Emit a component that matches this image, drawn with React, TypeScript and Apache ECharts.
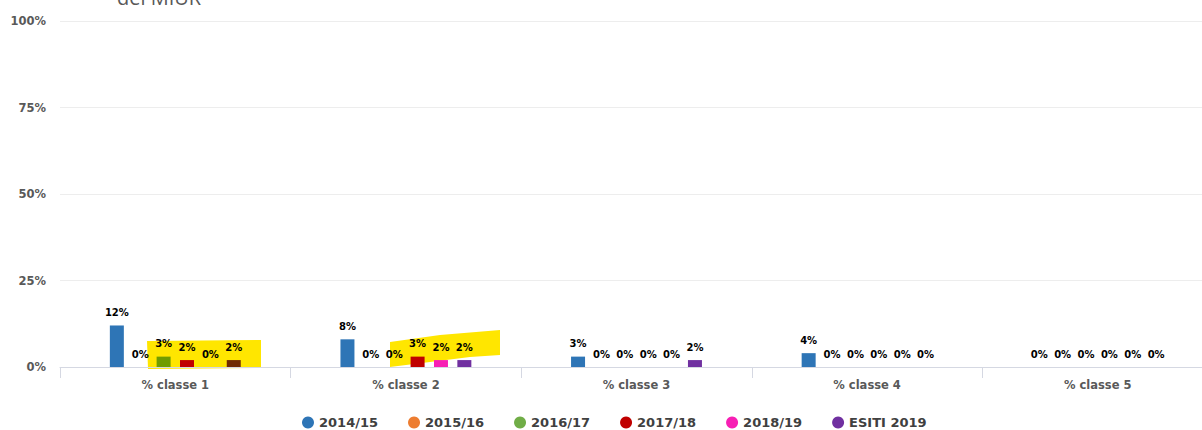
import React, { useEffect, useRef } from "react";
import * as echarts from "echarts";

const categories = ["% classe 1", "% classe 2", "% classe 3", "% classe 4", "% classe 5"];
const seriesNames = ["2014/15", "2015/16", "2016/17", "2017/18", "2018/19", "ESITI 2019"];
const values2014 = [12, 8, 3, 4, 0];
const values2015 = [0, 0, 0, 0, 0];
const values2016 = [3, 0, 0, 0, 0];
const values2017 = [2, 3, 0, 0, 0];
const values2018 = [0, 2, 0, 0, 0];
const valuesEsiti = [2, 2, 2, 0, 0];
const yTicks = [0, 25, 50, 75, 100];

const colors = ["#2e75b6", "#ed7d31", "#70ad47", "#c00000", "#f71fb4", "#7030a0"];
// colours of bars seen through the yellow highlighter (class 1)
const highlightedColors = ["#2e75b6", "#ed7d00", "#709c00", "#c00000", "#f71f00", "#702b00"];

const allValues = [values2014, values2015, values2016, values2017, values2018, valuesEsiti];

export default function App() {
  const ref = useRef<HTMLDivElement>(null);
  useEffect(() => {
    if (!ref.current) return;
    const chart = echarts.init(ref.current, undefined, { renderer: "svg" });
    const font = "'DejaVu Sans', sans-serif";
    chart.setOption({
      animation: false,
      backgroundColor: "#ffffff",
      textStyle: { fontFamily: font },
      color: colors,
      grid: { left: 60, top: 21, right: 0, height: 346, containLabel: false },
      legend: {
        data: seriesNames,
        top: 416,
        left: 302,
        padding: 0,
        icon: "circle",
        itemWidth: 12,
        itemHeight: 12,
        itemGap: 30,
        textStyle: { fontFamily: font, fontWeight: "bold", fontSize: 13, color: "#404040" },
      },
      graphic: [
        {
          type: "text",
          left: 117,
          top: -13,
          z: 10,
          style: { text: "del MIUR", font: `20px 'Open Sans', sans-serif`, fill: "#595959" },
        },
        {
          type: "polygon",
          z: 0,
          shape: { points: [[147, 341], [261, 340], [261, 368], [148, 369]] },
          style: { fill: "#ffe600" },
        },
        {
          type: "polygon",
          z: 0,
          shape: { points: [[390, 342], [440, 335], [500, 330], [500, 355], [470, 357], [390, 367]] },
          style: { fill: "#ffe600" },
        },
      ],
      xAxis: {
        type: "category",
        data: categories,
        axisLine: { lineStyle: { color: "#d5d8e2" } },
        axisTick: { show: true, length: 11, lineStyle: { color: "#d5d8e2" } },
        axisLabel: { margin: 12, fontFamily: font, fontWeight: "bold", fontSize: 11.5, color: "#595959" },
      },
      yAxis: {
        type: "value",
        min: yTicks[0],
        max: yTicks[yTicks.length - 1],
        interval: 25,
        axisLine: { show: false },
        axisTick: { show: false },
        splitLine: { lineStyle: { color: "#ededed" } },
        axisLabel: {
          margin: 14,
          formatter: "{value}%",
          fontFamily: font,
          fontWeight: "bold",
          fontSize: 11.5,
          color: "#595959",
        },
      },
      series: seriesNames.map((name, si) => ({
        name,
        type: "bar",
        barWidth: 14,
        barGap: "67%",
        z: 5,
        data: allValues[si].map((v, ci) =>
          ci === 0 ? { value: v, itemStyle: { color: highlightedColors[si] } } : v
        ),
        label: {
          show: true,
          position: "top",
          distance: 8,
          formatter: "{c}%",
          fontFamily: font,
          fontWeight: "bold",
          fontSize: 10,
          color: "#000000",
        },
      })),
    });
    return () => chart.dispose();
  }, []);
  return (
    <div
      ref={ref}
      style={{ position: "fixed", left: 0, top: 0, width: 1213, height: 430 }}
    />
  );
}
